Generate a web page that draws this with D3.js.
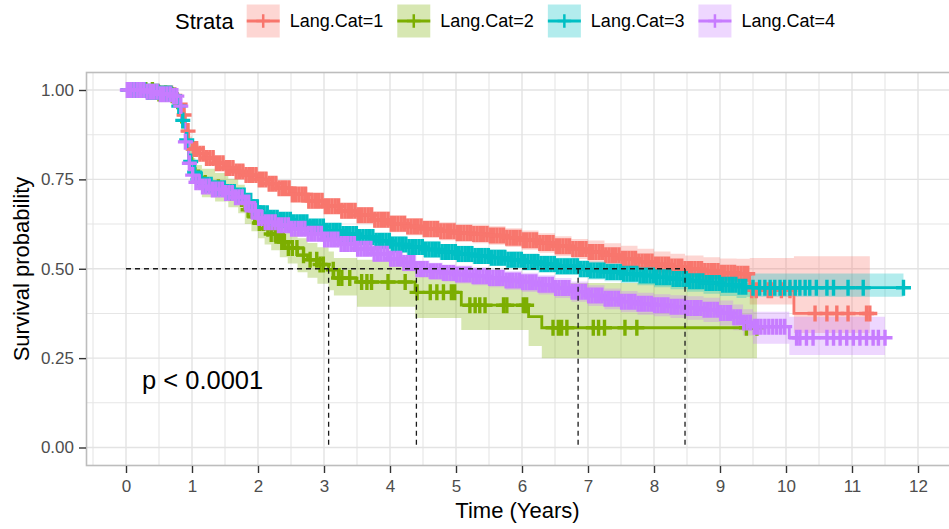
<!DOCTYPE html>
<html>
<head>
<meta charset="utf-8">
<script src="https://cdn.jsdelivr.net/npm/d3@7"></script>
<style>
  html, body { margin: 0; padding: 0; background: #ffffff; }
  svg { display: block; font-family: "Liberation Sans", Arial, Helvetica, sans-serif; }
</style>
</head>
<body>
<svg id="chart" width="949" height="529"></svg>
<script>
// ---- Kaplan-Meier estimates by language category ----
const strata = ["Lang.Cat=1", "Lang.Cat=2", "Lang.Cat=3", "Lang.Cat=4"];
const colors = ["#F8766D", "#7CAE00", "#00BFC4", "#C77CFF"];

// Lang.Cat=1
const times1 = [0,0.3,0.5,0.7,0.78,0.84,0.9,0.95,1.0,1.1, 1.2,1.35,1.5,1.65,1.8,2.0,2.15,2.3,2.5,2.75, 3.0,3.25,3.5,3.75,4.0,4.25,4.5,4.75,5.0,5.25, 5.5,5.75,6.0,6.25,6.5,6.75,7.0,7.25,7.5,7.75, 8.0,8.25,8.47,8.75,9.0,9.25,9.45,10.12,11.27];
const surv1  = [1,0.995,0.99,0.985,0.96,0.93,0.885,0.855,0.835,0.822, 0.81,0.795,0.782,0.772,0.762,0.75,0.738,0.725,0.708,0.69, 0.675,0.662,0.65,0.637,0.626,0.618,0.611,0.605,0.6,0.597, 0.593,0.587,0.58,0.572,0.563,0.555,0.547,0.538,0.528,0.52, 0.512,0.506,0.499,0.494,0.489,0.486,0.44,0.375,0.375];
const lower1 = [1,0.99,0.984,0.978,0.95,0.918,0.871,0.84,0.819,0.806, 0.793,0.778,0.764,0.754,0.743,0.73,0.718,0.704,0.687,0.668, 0.653,0.64,0.627,0.614,0.602,0.594,0.586,0.58,0.575,0.571, 0.567,0.561,0.553,0.545,0.535,0.527,0.515,0.505,0.492,0.484, 0.476,0.47,0.462,0.456,0.449,0.444,0.4,0.32,0.32];
const upper1 = [1,1,0.996,0.992,0.97,0.942,0.899,0.87,0.851,0.838, 0.827,0.812,0.8,0.79,0.781,0.77,0.758,0.746,0.729,0.712, 0.697,0.684,0.673,0.66,0.65,0.642,0.636,0.63,0.625,0.623, 0.619,0.613,0.607,0.599,0.591,0.583,0.579,0.571,0.564,0.556, 0.548,0.542,0.537,0.532,0.529,0.528,0.53,0.535,0.535];
const censor1 = [0.04,0.09,0.14,0.19,0.24,0.29,0.34,0.39,0.44,0.49,0.54,0.59,0.64,0.69,0.74,
  0.82,0.88,0.94,
  1.02,1.07,1.12,1.17,1.22,1.27,1.32,1.37,1.42,1.47,1.52,1.57,1.62,1.67,1.72,1.77,1.82,1.87,1.92,1.97,
  2.02,2.07,2.12,2.17,2.22,2.27,2.32,2.37,2.42,2.47,2.52,2.57,2.62,2.67,2.72,2.77,2.82,2.87,2.92,2.97,
  3.02,3.07,3.12,3.17,3.22,3.27,3.32,3.37,3.42,3.47,3.52,3.57,3.62,3.67,3.72,3.77,3.82,3.87,3.92,3.97,
  4.02,4.07,4.12,4.17,4.22,4.27,4.32,4.37,4.42,4.47,4.52,4.57,4.62,4.67,4.72,4.77,4.82,4.87,4.92,4.97,
  5.02,5.07,5.12,5.17,5.22,5.27,5.32,5.37,5.42,5.47,5.52,5.57,5.62,5.67,5.72,5.77,5.82,5.87,5.92,5.97,
  6.02,6.07,6.12,6.17,6.22,6.27,6.32,6.37,6.42,6.47,6.52,6.57,6.62,6.67,6.72,6.77,6.82,6.87,6.92,6.97,
  7.02,7.07,7.12,7.17,7.22,7.27,7.32,7.37,7.42,7.47,7.52,7.57,7.62,7.67,7.72,7.77,7.82,7.87,7.92,7.97,
  8.02,8.07,8.12,8.17,8.22,8.27,8.32,8.37,8.42,8.47,8.52,8.57,8.62,8.67,8.72,8.77,8.82,8.87,8.92,8.97,
  9.02,9.07,9.12,9.17,9.22,9.27,9.32,9.37,9.42,
  9.48,9.55,9.73,9.78,9.93,10.06,10.44,10.62,10.77,10.94,11.22,11.27];

// Lang.Cat=2
const times2 = [0,0.5,0.7,0.78,0.84,0.9,0.95,1.0,1.05,1.15, 1.35,1.55,1.7,1.8,1.9,2.0,2.1,2.2,2.33,2.45, 2.6,2.75,2.9,3.07,3.15,3.5,4.38,5.08,6.1,6.3, 9.56];
const surv2  = [1,0.99,0.985,0.95,0.91,0.86,0.815,0.78,0.755,0.74, 0.728,0.712,0.695,0.665,0.645,0.628,0.612,0.597,0.575,0.558, 0.538,0.525,0.512,0.497,0.474,0.463,0.434,0.398,0.366,0.335, 0.335];
const lower2 = [1,0.975,0.968,0.925,0.88,0.83,0.785,0.75,0.72,0.7, 0.688,0.672,0.655,0.625,0.605,0.585,0.568,0.552,0.532,0.515, 0.49,0.475,0.458,0.44,0.425,0.394,0.362,0.329,0.284,0.25, 0.25];
const upper2 = [1,1,1,0.975,0.94,0.89,0.845,0.81,0.79,0.78, 0.768,0.752,0.735,0.705,0.685,0.67,0.655,0.64,0.62,0.603, 0.585,0.572,0.56,0.548,0.53,0.525,0.505,0.48,0.47,0.46, 0.46];
const censor2 = [0.1,0.2,0.3,0.4,0.5,0.6,0.7,1.1,1.2,1.4,1.6,1.75,1.85,1.95,2.02,2.08,2.15,2.2,2.26,2.3,2.36,2.4,2.46,2.52,
  2.59,2.69,2.79,2.89,2.94,2.99,3.14,3.22,3.27,3.39,3.57,3.65,3.72,3.97,4.23,4.41,4.61,4.71,4.81,4.93,4.98,
  5.21,5.29,5.36,5.44,5.72,5.77,6.02,6.07,6.47,6.55,6.6,6.68,7.08,7.16,7.25,7.56,7.74,9.4,9.56];

// Lang.Cat=3
const times3 = [0,0.3,0.5,0.7,0.78,0.84,0.9,0.95,1.0,1.05, 1.15,1.3,1.5,1.65,1.8,1.9,2.0,2.15,2.3,2.5, 2.75,3.0,3.25,3.5,3.75,4.0,4.25,4.5,4.75,5.0, 5.25,5.5,5.75,6.0,6.25,6.5,6.85,7.0,7.25,7.5, 7.75,8.0,8.25,8.5,8.75,9.0,9.25,9.4,11.78];
const surv3  = [1,0.995,0.99,0.984,0.955,0.915,0.86,0.8,0.77,0.75, 0.735,0.725,0.715,0.705,0.69,0.672,0.655,0.643,0.637,0.63, 0.618,0.606,0.597,0.589,0.578,0.568,0.561,0.554,0.547,0.541, 0.536,0.531,0.525,0.519,0.513,0.507,0.499,0.495,0.491,0.486, 0.481,0.476,0.471,0.465,0.46,0.455,0.45,0.447,0.447];
const lower3 = [1,0.99,0.985,0.977,0.945,0.903,0.846,0.785,0.754,0.734, 0.718,0.708,0.697,0.687,0.671,0.653,0.636,0.623,0.617,0.61, 0.598,0.585,0.576,0.568,0.557,0.546,0.539,0.532,0.525,0.518, 0.513,0.508,0.502,0.495,0.489,0.483,0.474,0.47,0.465,0.46, 0.454,0.448,0.443,0.436,0.43,0.424,0.418,0.422,0.422];
const upper3 = [1,1,0.995,0.991,0.965,0.927,0.874,0.815,0.786,0.766, 0.752,0.742,0.733,0.723,0.709,0.691,0.674,0.663,0.657,0.65, 0.638,0.627,0.618,0.61,0.599,0.59,0.583,0.576,0.569,0.564, 0.559,0.554,0.548,0.543,0.537,0.531,0.524,0.52,0.517,0.512, 0.508,0.504,0.499,0.494,0.49,0.486,0.482,0.487,0.487];
const censor3 = [0.03,0.08,0.13,0.18,0.23,0.28,0.33,0.38,0.43,0.48,0.53,0.58,0.63,0.68,0.73,
  0.8,0.86,0.92,0.98,
  1.04,1.09,1.14,1.19,1.24,1.29,1.34,1.39,1.44,1.49,1.54,1.59,1.64,1.69,1.74,1.79,1.84,1.89,1.94,1.99,
  2.04,2.09,2.14,2.19,2.24,2.29,2.34,2.39,2.44,2.49,2.54,2.59,2.64,2.69,2.74,2.79,2.84,2.89,2.94,2.99,
  3.04,3.09,3.14,3.19,3.24,3.29,3.34,3.39,3.44,3.49,3.54,3.59,3.64,3.69,3.74,3.79,3.84,3.89,3.94,3.99,
  4.04,4.09,4.14,4.19,4.24,4.29,4.34,4.39,4.44,4.49,4.54,4.59,4.64,4.69,4.74,4.79,4.84,4.89,4.94,4.99,
  5.04,5.09,5.14,5.19,5.24,5.29,5.34,5.39,5.44,5.49,5.54,5.59,5.64,5.69,5.74,5.79,5.84,5.89,5.94,5.99,
  6.04,6.09,6.14,6.19,6.24,6.29,6.34,6.39,6.44,6.49,6.54,6.59,6.64,6.69,6.74,6.79,6.84,6.89,6.94,6.99,
  7.04,7.09,7.14,7.19,7.24,7.29,7.34,7.39,7.44,7.49,7.54,7.59,7.64,7.69,7.74,7.79,7.84,7.89,7.94,7.99,
  8.04,8.09,8.14,8.19,8.24,8.29,8.34,8.39,8.44,8.49,8.54,8.59,8.64,8.69,8.74,8.79,8.84,8.89,8.94,8.99,
  9.04,9.09,9.14,9.19,9.24,9.29,9.34,9.39,
  9.5,9.6,9.68,9.76,9.83,9.91,9.98,10.06,10.14,10.21,10.29,10.36,10.46,10.62,10.72,10.94,11.17,11.78];

// Lang.Cat=4
const times4 = [0,0.3,0.5,0.7,0.78,0.84,0.9,0.95,1.0,1.05, 1.15,1.3,1.5,1.65,1.78,1.88,1.97,2.1,2.3,2.5, 2.75,3.0,3.25,3.5,3.75,4.0,4.2,4.4,4.6,4.8, 5.0,5.25,5.5,5.75,6.0,6.25,6.5,6.75,7.0,7.25, 7.5,7.75,8.0,8.25,8.5,8.75,9.0,9.2,9.35,9.5, 10.05,11.5];
const surv4  = [1,0.995,0.988,0.983,0.955,0.915,0.855,0.795,0.762,0.742, 0.73,0.722,0.712,0.7,0.685,0.662,0.642,0.63,0.622,0.612, 0.598,0.582,0.569,0.556,0.542,0.528,0.516,0.499,0.493,0.488, 0.484,0.479,0.474,0.467,0.462,0.455,0.446,0.436,0.425,0.416, 0.408,0.402,0.398,0.394,0.39,0.385,0.376,0.364,0.35,0.338, 0.307,0.307];
const lower4 = [1,0.99,0.982,0.976,0.946,0.904,0.842,0.781,0.747,0.726, 0.714,0.705,0.694,0.682,0.666,0.643,0.622,0.61,0.601,0.591, 0.577,0.56,0.547,0.534,0.519,0.505,0.493,0.475,0.469,0.464, 0.459,0.454,0.448,0.441,0.435,0.428,0.418,0.408,0.396,0.387, 0.378,0.371,0.367,0.362,0.357,0.351,0.341,0.328,0.313,0.29, 0.259,0.259];
const upper4 = [1,1,0.994,0.99,0.964,0.926,0.868,0.809,0.777,0.758, 0.746,0.739,0.73,0.718,0.704,0.681,0.662,0.65,0.643,0.633, 0.619,0.604,0.591,0.578,0.565,0.551,0.539,0.523,0.517,0.512, 0.509,0.504,0.5,0.493,0.489,0.482,0.474,0.464,0.454,0.445, 0.438,0.433,0.429,0.426,0.423,0.419,0.411,0.4,0.387,0.38, 0.366,0.366];
const censor4 = [0.02,0.07,0.12,0.17,0.22,0.27,0.32,0.37,0.42,0.47,0.52,0.57,0.62,0.67,0.72,0.77,
  0.83,0.9,0.96,
  1.01,1.06,1.11,1.16,1.21,1.26,1.31,1.36,1.41,1.46,1.51,1.56,1.61,1.66,1.71,1.76,1.81,1.86,1.91,1.96,
  2.01,2.06,2.11,2.16,2.21,2.26,2.31,2.36,2.41,2.46,2.51,2.56,2.61,2.66,2.71,2.76,2.81,2.86,2.91,2.96,
  3.01,3.06,3.11,3.16,3.21,3.26,3.31,3.36,3.41,3.46,3.51,3.56,3.61,3.66,3.71,3.76,3.81,3.86,3.91,3.96,
  4.01,4.06,4.11,4.16,4.21,4.26,4.31,4.36,4.41,4.46,4.51,4.56,4.61,4.66,4.71,4.76,4.81,4.86,4.91,4.96,
  5.01,5.06,5.11,5.16,5.21,5.26,5.31,5.36,5.41,5.46,5.51,5.56,5.61,5.66,5.71,5.76,5.81,5.86,5.91,5.96,
  6.01,6.06,6.11,6.16,6.21,6.26,6.31,6.36,6.41,6.46,6.51,6.56,6.61,6.66,6.71,6.76,6.81,6.86,6.91,6.96,
  7.01,7.06,7.11,7.16,7.21,7.26,7.31,7.36,7.41,7.46,7.51,7.56,7.61,7.66,7.71,7.76,7.81,7.86,7.91,7.96,
  8.01,8.06,8.11,8.16,8.21,8.26,8.31,8.36,8.41,8.46,8.51,8.56,8.61,8.66,8.71,8.76,8.81,8.86,8.91,8.96,
  9.01,9.06,9.11,9.16,9.21,9.26,9.31,9.36,9.41,9.46,
  9.52,9.57,9.62,9.68,9.74,9.8,9.86,9.92,9.98,10.16,10.21,10.31,10.41,10.62,10.72,10.82,10.92,11.02,11.12,11.22,11.32,11.4,11.5];

// Median survival times (where each curve reaches 0.5)
const medianTimes = [8.47, 3.07, 6.85, 4.4];

// Axes
const xTickValues = [0,1,2,3,4,5,6,7,8,9,10,11,12];
const yTickValues = [0, 0.25, 0.5, 0.75, 1];
const yTickLabels = ["0.00", "0.25", "0.50", "0.75", "1.00"];
const xTitle = "Time (Years)";
const yTitle = "Survival probability";
const legendTitle = "Strata";
const pValueText = "p < 0.0001";

// ---- layout ----
const svg = d3.select("#chart");
const panel = { left: 86, right: 950, top: 72, bottom: 466 };
const x = d3.scaleLinear().domain([0, 12]).range([126, 918]);
const y = d3.scaleLinear().domain([0, 1]).range([447.5, 90]);

const groups = [
  { t: times1, s: surv1, lo: lower1, hi: upper1, c: censor1 },
  { t: times2, s: surv2, lo: lower2, hi: upper2, c: censor2 },
  { t: times3, s: surv3, lo: lower3, hi: upper3, c: censor3 },
  { t: times4, s: surv4, lo: lower4, hi: upper4, c: censor4 }
].map((g, i) => ({ ...g, color: colors[i], name: strata[i] }));

// panel + grid
svg.append("rect").attr("x", panel.left).attr("y", panel.top)
  .attr("width", panel.right - panel.left).attr("height", panel.bottom - panel.top)
  .attr("fill", "#ffffff");

const xMin = x.invert(panel.left), xMax = x.invert(panel.right);
const minorX = d3.range(Math.ceil(xMin * 2) / 2, xMax, 0.5).filter(v => Math.abs(v % 1) > 0.01);
const minorY = [0.125, 0.375, 0.625, 0.875];
const grid = svg.append("g").attr("class", "grid");
grid.selectAll(".gx-minor").data(minorX).join("line")
  .attr("x1", d => x(d)).attr("x2", d => x(d))
  .attr("y1", panel.top).attr("y2", panel.bottom)
  .attr("stroke", "#E6E6E6").attr("stroke-width", 1.1);
grid.selectAll(".gy-minor").data(minorY).join("line")
  .attr("class", "gy-minor")
  .attr("y1", d => y(d)).attr("y2", d => y(d))
  .attr("x1", panel.left).attr("x2", panel.right)
  .attr("stroke", "#E6E6E6").attr("stroke-width", 1.1);
grid.selectAll(".gx").data(xTickValues).join("line")
  .attr("class", "gx")
  .attr("x1", d => x(d)).attr("x2", d => x(d))
  .attr("y1", panel.top).attr("y2", panel.bottom)
  .attr("stroke", "#E3E3E3").attr("stroke-width", 1.4);
grid.selectAll(".gy").data(yTickValues).join("line")
  .attr("class", "gy")
  .attr("y1", d => y(d)).attr("y2", d => y(d))
  .attr("x1", panel.left).attr("x2", panel.right)
  .attr("stroke", "#E3E3E3").attr("stroke-width", 1.4);

svg.append("defs").append("clipPath").attr("id", "panel-clip")
  .append("rect").attr("x", panel.left).attr("y", panel.top)
  .attr("width", panel.right - panel.left).attr("height", panel.bottom - panel.top);
const plot = svg.append("g").attr("clip-path", "url(#panel-clip)");

// confidence ribbons
const area = d3.area().curve(d3.curveStepAfter)
  .x(d => x(d.t)).y0(d => y(d.lo)).y1(d => y(d.hi));
groups.forEach(g => {
  const pts = g.t.map((t, i) => ({ t, lo: g.lo[i], hi: g.hi[i] }));
  plot.append("path").datum(pts).attr("d", area)
    .attr("fill", g.color).attr("fill-opacity", 0.3).attr("stroke", "none");
});

// survival step curves
const line = d3.line().curve(d3.curveStepAfter).x(d => x(d.t)).y(d => y(d.s));
groups.forEach(g => {
  const pts = g.t.map((t, i) => ({ t, s: g.s[i] }));
  plot.append("path").datum(pts).attr("d", line)
    .attr("fill", "none").attr("stroke", g.color).attr("stroke-width", 2.8);
});

// censoring marks
const plusPath = "M-7.5,0H7.5M0,-8V8";
const bisect = d3.bisector(d => d).right;
function survAt(g, t) {
  const i = Math.max(0, bisect(g.t, t) - 1);
  return g.s[i];
}
groups.forEach(g => {
  plot.append("g").selectAll("path").data(g.c).join("path")
    .attr("d", plusPath)
    .attr("transform", d => `translate(${x(d)},${y(survAt(g, d))})`)
    .attr("fill", "none").attr("stroke", g.color).attr("stroke-width", 3.4);
});

// median survival guides
const med = svg.append("g").attr("stroke", "#1a1a1a").attr("stroke-width", 1.3)
  .attr("stroke-dasharray", "5,4").attr("fill", "none");
med.append("line").attr("x1", x(0)).attr("x2", x(d3.max(medianTimes)))
  .attr("y1", y(0.5)).attr("y2", y(0.5));
med.selectAll(".v").data(medianTimes).join("line")
  .attr("x1", d => x(d)).attr("x2", d => x(d))
  .attr("y1", y(0.5)).attr("y2", y(0));

// p-value
svg.append("text").attr("x", 142).attr("y", 389)
  .attr("font-size", 25.5).attr("fill", "#000").text(pValueText);

// panel border
svg.append("rect").attr("x", panel.left + 0.5).attr("y", panel.top + 0.5)
  .attr("width", panel.right - panel.left).attr("height", panel.bottom - panel.top - 1)
  .attr("fill", "none").attr("stroke", "#BDBDBD").attr("stroke-width", 1.6);

// axes
const yAxis = d3.axisLeft(y).tickValues(yTickValues)
  .tickFormat((d, i) => yTickLabels[i]).tickSize(7).tickPadding(5);
const gy = svg.append("g").attr("transform", `translate(${panel.left},0)`).call(yAxis);
const xAxis = d3.axisBottom(x).tickValues(xTickValues).tickSize(7).tickPadding(7);
const gx = svg.append("g").attr("transform", `translate(0,${panel.bottom})`).call(xAxis);
[gx, gy].forEach(g => {
  g.select(".domain").remove();
  g.selectAll(".tick line").attr("stroke", "#333333").attr("stroke-width", 1.4);
  g.selectAll(".tick text").attr("fill", "#4D4D4D").attr("font-size", 17)
    .attr("font-family", '"Liberation Sans", Arial, sans-serif');
});

// axis titles
svg.append("text").attr("x", (panel.left + 949) / 2).attr("y", 518)
  .attr("text-anchor", "middle").attr("font-size", 22).attr("fill", "#000").text(xTitle);
svg.append("text").attr("transform", `translate(29,${(panel.top + panel.bottom) / 2}) rotate(-90)`)
  .attr("text-anchor", "middle").attr("font-size", 22).attr("fill", "#000").text(yTitle);

// legend
const legend = svg.append("g");
const keySize = 33, keyCy = 21;
const titleEl = legend.append("text").attr("x", 175).attr("y", keyCy + 7.5)
  .attr("font-size", 22).attr("fill", "#000").text(legendTitle);
let lx = 175 + titleEl.node().getComputedTextLength() + 13;
groups.forEach(g => {
  const k = legend.append("g").attr("transform", `translate(${lx},${keyCy - keySize / 2})`);
  k.append("rect").attr("width", keySize).attr("height", keySize)
    .attr("fill", g.color).attr("fill-opacity", 0.3);
  k.append("line").attr("x1", 0).attr("x2", keySize).attr("y1", keySize / 2).attr("y2", keySize / 2)
    .attr("stroke", g.color).attr("stroke-width", 2.8);
  k.append("path").attr("d", "M-6.8,0H6.8M0,-6.8V6.8").attr("transform", `translate(${keySize / 2},${keySize / 2})`)
    .attr("stroke", g.color).attr("stroke-width", 2.5).attr("fill", "none");
  const t = legend.append("text").attr("x", lx + keySize + 10).attr("y", keyCy + 6.3)
    .attr("font-size", 18).attr("fill", "#000").text(g.name);
  lx += keySize + 10 + t.node().getComputedTextLength() + 14;
});
</script>
</body>
</html>
